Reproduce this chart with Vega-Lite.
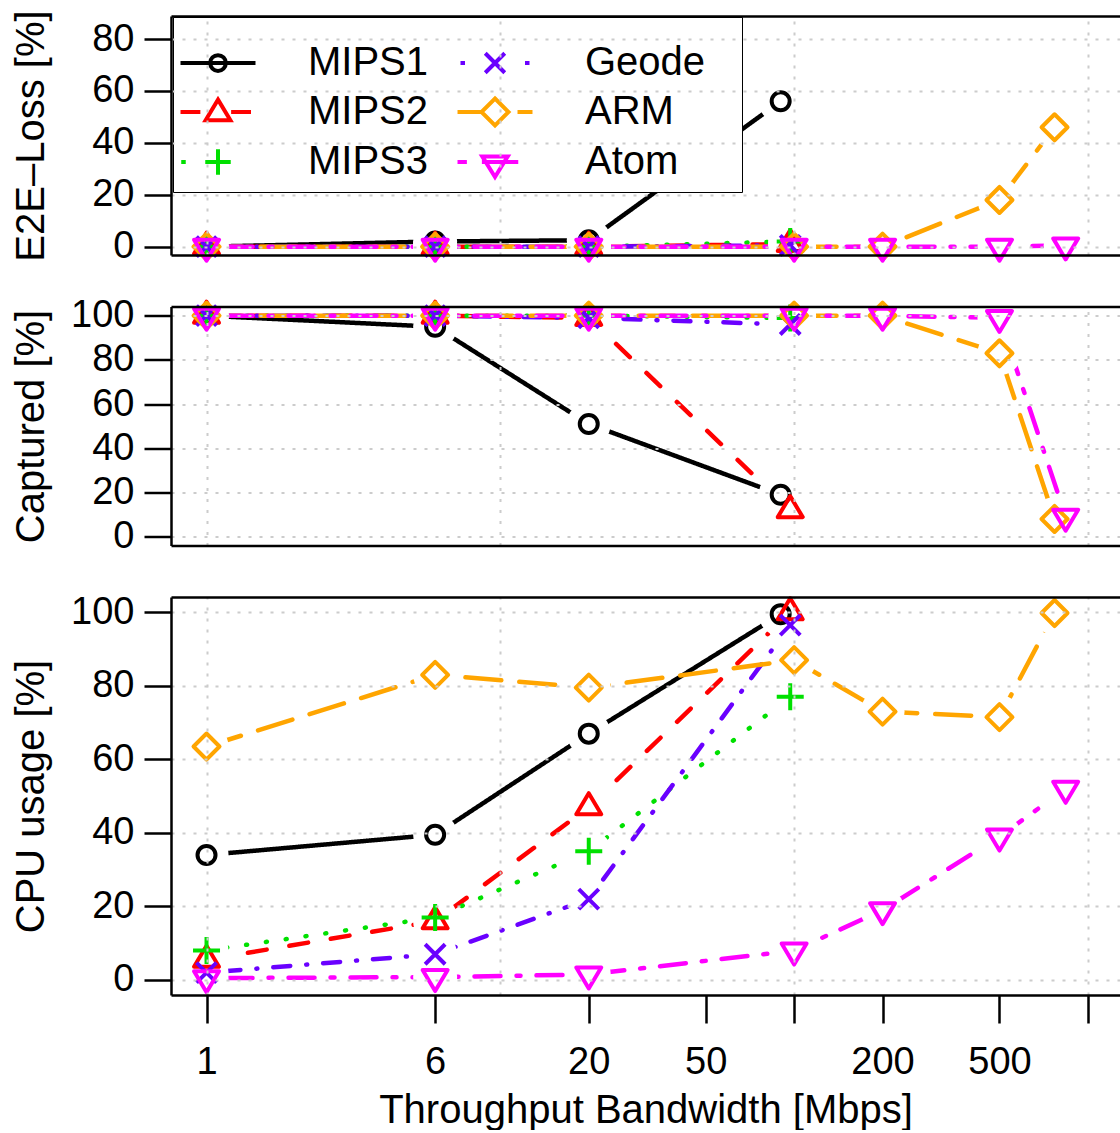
{
  "$schema": "https://vega.github.io/schema/vega-lite/v6.json",
  "padding": {"left": 10, "top": 9, "right": 0, "bottom": 0},
  "bounds": "flush",
  "spacing": 51.5,
  "config": {
    "view": {"stroke": null},
    "font": "Liberation Sans",
    "axis": {"labelColor": "black", "titleColor": "black", "titleFontWeight": "normal", "labelFont": "Liberation Sans", "titleFont": "Liberation Sans"}
  },
  "datasets": {
    "d": [
      {"p": "loss", "s": "MIPS1", "x": 1, "y": 0},
      {"p": "loss", "s": "MIPS1", "x": 6, "y": 2},
      {"p": "loss", "s": "MIPS1", "x": 20, "y": 2.5},
      {"p": "loss", "s": "MIPS1", "x": 90, "y": 56},
      {"p": "loss", "s": "MIPS2", "x": 1, "y": 0},
      {"p": "loss", "s": "MIPS2", "x": 6, "y": 0},
      {"p": "loss", "s": "MIPS2", "x": 20, "y": 0},
      {"p": "loss", "s": "MIPS2", "x": 97, "y": 1},
      {"p": "loss", "s": "MIPS3", "x": 1, "y": 0},
      {"p": "loss", "s": "MIPS3", "x": 6, "y": 0},
      {"p": "loss", "s": "MIPS3", "x": 20, "y": 0},
      {"p": "loss", "s": "MIPS3", "x": 97, "y": 2},
      {"p": "loss", "s": "Geode", "x": 1, "y": 0},
      {"p": "loss", "s": "Geode", "x": 6, "y": 0},
      {"p": "loss", "s": "Geode", "x": 20, "y": 0},
      {"p": "loss", "s": "Geode", "x": 97, "y": 0.5},
      {"p": "loss", "s": "ARM", "x": 1, "y": 0},
      {"p": "loss", "s": "ARM", "x": 6, "y": 0},
      {"p": "loss", "s": "ARM", "x": 20, "y": 0},
      {"p": "loss", "s": "ARM", "x": 100, "y": 0},
      {"p": "loss", "s": "ARM", "x": 200, "y": 0},
      {"p": "loss", "s": "ARM", "x": 500, "y": 18},
      {"p": "loss", "s": "ARM", "x": 770, "y": 46},
      {"p": "loss", "s": "Atom", "x": 1, "y": 0},
      {"p": "loss", "s": "Atom", "x": 6, "y": 0},
      {"p": "loss", "s": "Atom", "x": 20, "y": 0},
      {"p": "loss", "s": "Atom", "x": 100, "y": 0},
      {"p": "loss", "s": "Atom", "x": 200, "y": 0},
      {"p": "loss", "s": "Atom", "x": 500, "y": 0},
      {"p": "loss", "s": "Atom", "x": 840, "y": 0.5},

      {"p": "cap", "s": "MIPS1", "x": 1, "y": 100},
      {"p": "cap", "s": "MIPS1", "x": 6, "y": 95},
      {"p": "cap", "s": "MIPS1", "x": 20, "y": 51},
      {"p": "cap", "s": "MIPS1", "x": 90, "y": 19},
      {"p": "cap", "s": "MIPS2", "x": 1, "y": 100},
      {"p": "cap", "s": "MIPS2", "x": 6, "y": 100},
      {"p": "cap", "s": "MIPS2", "x": 20, "y": 99},
      {"p": "cap", "s": "MIPS2", "x": 97, "y": 12},
      {"p": "cap", "s": "MIPS3", "x": 1, "y": 100},
      {"p": "cap", "s": "MIPS3", "x": 6, "y": 100},
      {"p": "cap", "s": "MIPS3", "x": 20, "y": 100},
      {"p": "cap", "s": "MIPS3", "x": 97, "y": 99},
      {"p": "cap", "s": "Geode", "x": 1, "y": 100},
      {"p": "cap", "s": "Geode", "x": 6, "y": 100},
      {"p": "cap", "s": "Geode", "x": 20, "y": 99},
      {"p": "cap", "s": "Geode", "x": 97, "y": 96},
      {"p": "cap", "s": "ARM", "x": 1, "y": 100},
      {"p": "cap", "s": "ARM", "x": 6, "y": 100},
      {"p": "cap", "s": "ARM", "x": 20, "y": 100},
      {"p": "cap", "s": "ARM", "x": 100, "y": 100},
      {"p": "cap", "s": "ARM", "x": 200, "y": 100},
      {"p": "cap", "s": "ARM", "x": 500, "y": 83},
      {"p": "cap", "s": "ARM", "x": 770, "y": 8},
      {"p": "cap", "s": "Atom", "x": 1, "y": 100},
      {"p": "cap", "s": "Atom", "x": 6, "y": 100},
      {"p": "cap", "s": "Atom", "x": 20, "y": 100},
      {"p": "cap", "s": "Atom", "x": 100, "y": 100},
      {"p": "cap", "s": "Atom", "x": 200, "y": 100},
      {"p": "cap", "s": "Atom", "x": 500, "y": 99},
      {"p": "cap", "s": "Atom", "x": 840, "y": 9},

      {"p": "cpu", "s": "MIPS1", "x": 1, "y": 34},
      {"p": "cpu", "s": "MIPS1", "x": 6, "y": 39.5},
      {"p": "cpu", "s": "MIPS1", "x": 20, "y": 67},
      {"p": "cpu", "s": "MIPS1", "x": 90, "y": 99.5},
      {"p": "cpu", "s": "MIPS2", "x": 1, "y": 5.5},
      {"p": "cpu", "s": "MIPS2", "x": 6, "y": 16},
      {"p": "cpu", "s": "MIPS2", "x": 20, "y": 47},
      {"p": "cpu", "s": "MIPS2", "x": 97, "y": 100},
      {"p": "cpu", "s": "MIPS3", "x": 1, "y": 8},
      {"p": "cpu", "s": "MIPS3", "x": 6, "y": 17},
      {"p": "cpu", "s": "MIPS3", "x": 20, "y": 35},
      {"p": "cpu", "s": "MIPS3", "x": 97, "y": 77},
      {"p": "cpu", "s": "Geode", "x": 1, "y": 2},
      {"p": "cpu", "s": "Geode", "x": 6, "y": 7},
      {"p": "cpu", "s": "Geode", "x": 20, "y": 22},
      {"p": "cpu", "s": "Geode", "x": 97, "y": 96.5},
      {"p": "cpu", "s": "ARM", "x": 1, "y": 63.5},
      {"p": "cpu", "s": "ARM", "x": 6, "y": 83},
      {"p": "cpu", "s": "ARM", "x": 20, "y": 79.5},
      {"p": "cpu", "s": "ARM", "x": 100, "y": 87},
      {"p": "cpu", "s": "ARM", "x": 200, "y": 73},
      {"p": "cpu", "s": "ARM", "x": 500, "y": 71.5},
      {"p": "cpu", "s": "ARM", "x": 770, "y": 99.8},
      {"p": "cpu", "s": "Atom", "x": 1, "y": 0.5},
      {"p": "cpu", "s": "Atom", "x": 6, "y": 0.8},
      {"p": "cpu", "s": "Atom", "x": 20, "y": 1.5},
      {"p": "cpu", "s": "Atom", "x": 100, "y": 8},
      {"p": "cpu", "s": "Atom", "x": 200, "y": 19},
      {"p": "cpu", "s": "Atom", "x": 500, "y": 39},
      {"p": "cpu", "s": "Atom", "x": 840, "y": 52}
    ]
  },
  "data": {"name": "d"},
  "resolve": {
    "scale": {"color": "independent", "shape": "independent", "strokeDash": "independent"},
    "legend": {"color": "independent", "shape": "independent", "strokeDash": "independent"}
  },
  "vconcat": [
    {
      "width": 949, "height": 239,
      "transform": [{"filter": "datum.p === 'loss'"}],
      "resolve": {
        "axis": {"x": "independent", "y": "independent"},
        "scale": {"color": "independent", "shape": "independent", "strokeDash": "independent"},
        "legend": {"color": "independent", "shape": "independent", "strokeDash": "independent"}
      },
      "layer": [
        {
          "mark": {"type": "line", "strokeWidth": 4.5, "strokeCap": "round", "strokeJoin": "round"},
          "encoding": {
            "x": {"field": "x", "type": "quantitative", "scale": {"type": "log", "domain": [0.757, 1286], "nice": false},
                  "axis": {"orient": "bottom", "labels": false, "ticks": false, "title": null, "grid": false, "domain": true, "domainColor": "black", "domainWidth": 2.5, "zindex": 1}},
            "y": {"field": "y", "type": "quantitative", "scale": {"domain": [-3.2, 88.86], "nice": false, "zero": false},
                  "axis": {"orient": "left", "values": [0, 20, 40, 60, 80], "title": "E2E–Loss [%]", "titleFontSize": 40, "titleAngle": 270, "titleBaseline": "alphabetic", "titleX": -128, "labelFontSize": 38, "labelPadding": 10, "tickSize": 27, "tickWidth": 2.5, "tickColor": "black", "domain": true, "domainColor": "black", "domainWidth": 2.5, "grid": true, "gridColor": "#CCCCCC", "gridDash": [3, 8], "gridWidth": 2, "zindex": 1}},
            "color": {"field": "s", "type": "nominal",
                      "scale": {"domain": ["MIPS1", "MIPS2", "MIPS3", "Geode", "ARM", "Atom"], "range": ["#000000", "#FF0000", "#00E000", "#6A00FF", "#FFA500", "#FF00FF"]},
                      "legend": null},
            "strokeDash": {"field": "s", "type": "nominal",
                           "scale": {"domain": ["MIPS1", "MIPS2", "MIPS3", "Geode", "ARM", "Atom"], "range": [[1, 0], [19, 23], [1, 19], [1, 16, 17, 16], [36, 18], [4, 16, 26, 16]]},
                           "legend": null}
          }
        },
        {
          "mark": {"type": "point", "shape": "circle", "filled": true, "color": "white", "opacity": 1, "size": 1936, "clip": true},
          "encoding": {
            "x": {"field": "x", "type": "quantitative", "scale": {"type": "log", "domain": [0.757, 1286], "nice": false},
                  "axis": {"orient": "top", "values": [1, 10, 100, 1000], "labels": false, "ticks": false, "title": null, "grid": true, "gridColor": "#CCCCCC", "gridDash": [3, 8], "gridWidth": 2, "domain": true, "domainColor": "black", "domainWidth": 2.5, "zindex": 1}},
            "y": {"field": "y", "type": "quantitative", "scale": {"domain": [-3.2, 88.86], "nice": false, "zero": false}, "axis": null}
          }
        },
        {
          "mark": {"type": "point", "filled": false, "opacity": 1, "strokeWidth": 4, "strokeJoin": "round", "size": 400},
          "encoding": {
            "x": {"field": "x", "type": "quantitative", "scale": {"type": "log", "domain": [0.757, 1286], "nice": false}, "axis": null},
            "y": {"field": "y", "type": "quantitative", "scale": {"domain": [-3.2, 88.86], "nice": false, "zero": false}, "axis": null},
            "color": {"field": "s", "type": "nominal",
                      "scale": {"domain": ["MIPS1", "MIPS2", "MIPS3", "Geode", "ARM", "Atom"], "range": ["#000000", "#FF0000", "#00E000", "#6A00FF", "#FFA500", "#FF00FF"]},
                      "legend": null},
            "shape": {"field": "s", "type": "nominal",
                      "scale": {"domain": ["MIPS1", "MIPS2", "MIPS3", "Geode", "ARM", "Atom"], "range": ["M0.9,0A0.9,0.9,0,1,1,-0.9,0A0.9,0.9,0,1,1,0.9,0Z", "M0,-1.4L1.25,0.7L-1.25,0.7Z", "M-1.35,0L1.35,0M0,-1.35L0,1.35", "M-1,-1L1,1M-1,1L1,-1", "M0,-1.3L1.3,0L0,1.3L-1.3,0Z", "M0,1.4L1.25,-0.7L-1.25,-0.7Z"]},
                      "legend": null}
          }
        },
        {
          "mark": {"type": "point", "filled": false, "opacity": 0, "strokeWidth": 4, "size": 400},
          "encoding": {
            "x": {"field": "x", "type": "quantitative", "scale": {"type": "log", "domain": [0.757, 1286], "nice": false}, "axis": null},
            "y": {"field": "y", "type": "quantitative", "scale": {"domain": [-3.2, 88.86], "nice": false, "zero": false}, "axis": null},
            "color": {"field": "s", "type": "nominal",
                      "scale": {"domain": ["MIPS1", "MIPS2", "MIPS3", "Geode", "ARM", "Atom"], "range": ["#000000", "#FF0000", "#00E000", "#6A00FF", "#FFA500", "#FF00FF"]},
                      "legend": {
                        "orient": "none", "legendX": 2, "legendY": 1, "title": "\u2800", "titleFontSize": 12, "titlePadding": 7, "titleColor": "white", "columns": 2, "direction": "vertical",
                        "symbolSize": 1296, "symbolOffset": 18, "symbolStrokeWidth": 4, "symbolOpacity": 1, "symbolFillColor": "transparent",
                        "labelFontSize": 40, "labelFont": "Liberation Sans", "labelColor": "black", "labelOffset": 70, "labelLimit": 400,
                        "columnPadding": 20, "rowPadding": 7, "padding": 7,
                        "fillColor": "white", "strokeColor": "black",
                        "labelExpr": "indexof(['Geode','ARM','Atom'], datum.label) >= 0 ? datum.label + '\u2800' : datum.label"
                      }},
            "shape": {"field": "s", "type": "nominal",
                      "scale": {"domain": ["MIPS1", "MIPS2", "MIPS3", "Geode", "ARM", "Atom"], "range": [
                        "M-2.083,0L2.083,0M0.4375,0A0.4375,0.4375,0,1,1,-0.4375,0A0.4375,0.4375,0,1,1,0.4375,0Z",
                        "M-2.083,0L-0.979,0M0.729,0L1.833,0M0,-0.6875L0.6875,0.458L-0.6875,0.458Z",
                        "M-2.042,0L-1.792,0M-0.708,0L0.708,0M0,-0.708L0,0.708",
                        "M-1.917,0L-1.667,0M1.667,0L1.917,0M-0.542,-0.542L0.542,0.542M-0.542,0.542L0.542,-0.542",
                        "M-2.083,0L-0.75,0M1.25,0L2.083,0M0,-0.75L0.75,0L0,0.75L-0.75,0Z",
                        "M-2.083,0L-1.5625,0M-0.729,0L1.292,0M0,0.833L0.708,-0.3125L-0.708,-0.3125Z"]},
                      "legend": {
                        "orient": "none", "legendX": 2, "legendY": 1, "title": "\u2800", "titleFontSize": 12, "titlePadding": 7, "titleColor": "white", "columns": 2, "direction": "vertical",
                        "symbolSize": 1296, "symbolOffset": 18, "symbolStrokeWidth": 4, "symbolOpacity": 1, "symbolFillColor": "transparent",
                        "labelFontSize": 40, "labelFont": "Liberation Sans", "labelColor": "black", "labelOffset": 70, "labelLimit": 400,
                        "columnPadding": 20, "rowPadding": 7, "padding": 7,
                        "fillColor": "white", "strokeColor": "black",
                        "labelExpr": "indexof(['Geode','ARM','Atom'], datum.label) >= 0 ? datum.label + '\u2800' : datum.label"
                      }}
          }
        }
      ]
    },
    {
      "width": 949, "height": 239,
      "transform": [{"filter": "datum.p === 'cap'"}],
      "resolve": {"axis": {"x": "independent", "y": "independent"}},
      "layer": [
        {
          "mark": {"type": "line", "strokeWidth": 4.5, "strokeCap": "round", "strokeJoin": "round"},
          "encoding": {
            "x": {"field": "x", "type": "quantitative", "scale": {"type": "log", "domain": [0.757, 1286], "nice": false},
                  "axis": {"orient": "bottom", "labels": false, "ticks": false, "title": null, "grid": false, "domain": true, "domainColor": "black", "domainWidth": 2.5, "zindex": 1}},
            "y": {"field": "y", "type": "quantitative", "scale": {"domain": [-4, 104.16], "nice": false, "zero": false},
                  "axis": {"orient": "left", "values": [0, 20, 40, 60, 80, 100], "title": "Captured [%]", "titleFontSize": 40, "titleAngle": 270, "titleBaseline": "alphabetic", "titleX": -128, "labelFontSize": 38, "labelPadding": 10, "tickSize": 27, "tickWidth": 2.5, "tickColor": "black", "domain": true, "domainColor": "black", "domainWidth": 2.5, "grid": true, "gridColor": "#CCCCCC", "gridDash": [3, 8], "gridWidth": 2, "zindex": 1}},
            "color": {"field": "s", "type": "nominal",
                      "scale": {"domain": ["MIPS1", "MIPS2", "MIPS3", "Geode", "ARM", "Atom"], "range": ["#000000", "#FF0000", "#00E000", "#6A00FF", "#FFA500", "#FF00FF"]},
                      "legend": null},
            "strokeDash": {"field": "s", "type": "nominal",
                           "scale": {"domain": ["MIPS1", "MIPS2", "MIPS3", "Geode", "ARM", "Atom"], "range": [[1, 0], [19, 23], [1, 19], [1, 16, 17, 16], [36, 18], [4, 16, 26, 16]]},
                           "legend": null}
          }
        },
        {
          "mark": {"type": "point", "shape": "circle", "filled": true, "color": "white", "opacity": 1, "size": 1936, "clip": true},
          "encoding": {
            "x": {"field": "x", "type": "quantitative", "scale": {"type": "log", "domain": [0.757, 1286], "nice": false},
                  "axis": {"orient": "top", "values": [1, 10, 100, 1000], "labels": false, "ticks": false, "title": null, "grid": true, "gridColor": "#CCCCCC", "gridDash": [3, 8], "gridWidth": 2, "domain": true, "domainColor": "black", "domainWidth": 2.5, "zindex": 1}},
            "y": {"field": "y", "type": "quantitative", "scale": {"domain": [-4, 104.16], "nice": false, "zero": false}, "axis": null}
          }
        },
        {
          "mark": {"type": "point", "filled": false, "opacity": 1, "strokeWidth": 4, "strokeJoin": "round", "size": 400},
          "encoding": {
            "x": {"field": "x", "type": "quantitative", "scale": {"type": "log", "domain": [0.757, 1286], "nice": false}, "axis": null},
            "y": {"field": "y", "type": "quantitative", "scale": {"domain": [-4, 104.16], "nice": false, "zero": false}, "axis": null},
            "color": {"field": "s", "type": "nominal",
                      "scale": {"domain": ["MIPS1", "MIPS2", "MIPS3", "Geode", "ARM", "Atom"], "range": ["#000000", "#FF0000", "#00E000", "#6A00FF", "#FFA500", "#FF00FF"]},
                      "legend": null},
            "shape": {"field": "s", "type": "nominal",
                      "scale": {"domain": ["MIPS1", "MIPS2", "MIPS3", "Geode", "ARM", "Atom"], "range": ["M0.9,0A0.9,0.9,0,1,1,-0.9,0A0.9,0.9,0,1,1,0.9,0Z", "M0,-1.4L1.25,0.7L-1.25,0.7Z", "M-1.35,0L1.35,0M0,-1.35L0,1.35", "M-1,-1L1,1M-1,1L1,-1", "M0,-1.3L1.3,0L0,1.3L-1.3,0Z", "M0,1.4L1.25,-0.7L-1.25,-0.7Z"]},
                      "legend": null}
          }
        }
      ]
    },
    {
      "width": 949, "height": 398,
      "transform": [{"filter": "datum.p === 'cpu'"}],
      "resolve": {"axis": {"x": "independent", "y": "independent"}},
      "layer": [
        {
          "mark": {"type": "line", "strokeWidth": 4.5, "strokeCap": "round", "strokeJoin": "round"},
          "encoding": {
            "x": {"field": "x", "type": "quantitative", "scale": {"type": "log", "domain": [0.757, 1286], "nice": false},
                  "axis": {"orient": "bottom", "values": [1, 6, 20, 50, 100, 200, 500, 1000], "labelExpr": "(datum.value == 100 || datum.value == 1000) ? '' : format(datum.value, 'd')", "labelFlush": false, "labelOverlap": false, "labelFontSize": 38, "labelPadding": 20, "tickSize": 28, "tickWidth": 2.5, "tickColor": "black", "title": "Throughput Bandwidth [Mbps]", "titleFontSize": 40, "titleBaseline": "alphabetic", "titleY": 127, "grid": false, "domain": true, "domainColor": "black", "domainWidth": 2.5, "zindex": 1}},
            "y": {"field": "y", "type": "quantitative", "scale": {"domain": [-4.08, 104.16], "nice": false, "zero": false},
                  "axis": {"orient": "left", "values": [0, 20, 40, 60, 80, 100], "title": "CPU usage [%]", "titleFontSize": 40, "titleAngle": 270, "titleBaseline": "alphabetic", "titleX": -128, "labelFontSize": 38, "labelPadding": 10, "tickSize": 27, "tickWidth": 2.5, "tickColor": "black", "domain": true, "domainColor": "black", "domainWidth": 2.5, "grid": true, "gridColor": "#CCCCCC", "gridDash": [3, 8], "gridWidth": 2, "zindex": 1}},
            "color": {"field": "s", "type": "nominal",
                      "scale": {"domain": ["MIPS1", "MIPS2", "MIPS3", "Geode", "ARM", "Atom"], "range": ["#000000", "#FF0000", "#00E000", "#6A00FF", "#FFA500", "#FF00FF"]},
                      "legend": null},
            "strokeDash": {"field": "s", "type": "nominal",
                           "scale": {"domain": ["MIPS1", "MIPS2", "MIPS3", "Geode", "ARM", "Atom"], "range": [[1, 0], [19, 23], [1, 19], [1, 16, 17, 16], [36, 18], [4, 16, 26, 16]]},
                           "legend": null}
          }
        },
        {
          "mark": {"type": "point", "shape": "circle", "filled": true, "color": "white", "opacity": 1, "size": 1936, "clip": true},
          "encoding": {
            "x": {"field": "x", "type": "quantitative", "scale": {"type": "log", "domain": [0.757, 1286], "nice": false},
                  "axis": {"orient": "top", "values": [1, 10, 100, 1000], "labels": false, "ticks": false, "title": null, "grid": true, "gridColor": "#CCCCCC", "gridDash": [3, 8], "gridWidth": 2, "domain": true, "domainColor": "black", "domainWidth": 2.5, "zindex": 1}},
            "y": {"field": "y", "type": "quantitative", "scale": {"domain": [-4.08, 104.16], "nice": false, "zero": false}, "axis": null}
          }
        },
        {
          "mark": {"type": "point", "filled": false, "opacity": 1, "strokeWidth": 4, "strokeJoin": "round", "size": 400},
          "encoding": {
            "x": {"field": "x", "type": "quantitative", "scale": {"type": "log", "domain": [0.757, 1286], "nice": false}, "axis": null},
            "y": {"field": "y", "type": "quantitative", "scale": {"domain": [-4.08, 104.16], "nice": false, "zero": false}, "axis": null},
            "color": {"field": "s", "type": "nominal",
                      "scale": {"domain": ["MIPS1", "MIPS2", "MIPS3", "Geode", "ARM", "Atom"], "range": ["#000000", "#FF0000", "#00E000", "#6A00FF", "#FFA500", "#FF00FF"]},
                      "legend": null},
            "shape": {"field": "s", "type": "nominal",
                      "scale": {"domain": ["MIPS1", "MIPS2", "MIPS3", "Geode", "ARM", "Atom"], "range": ["M0.9,0A0.9,0.9,0,1,1,-0.9,0A0.9,0.9,0,1,1,0.9,0Z", "M0,-1.4L1.25,0.7L-1.25,0.7Z", "M-1.35,0L1.35,0M0,-1.35L0,1.35", "M-1,-1L1,1M-1,1L1,-1", "M0,-1.3L1.3,0L0,1.3L-1.3,0Z", "M0,1.4L1.25,-0.7L-1.25,-0.7Z"]},
                      "legend": null}
          }
        }
      ]
    }
  ]
}
